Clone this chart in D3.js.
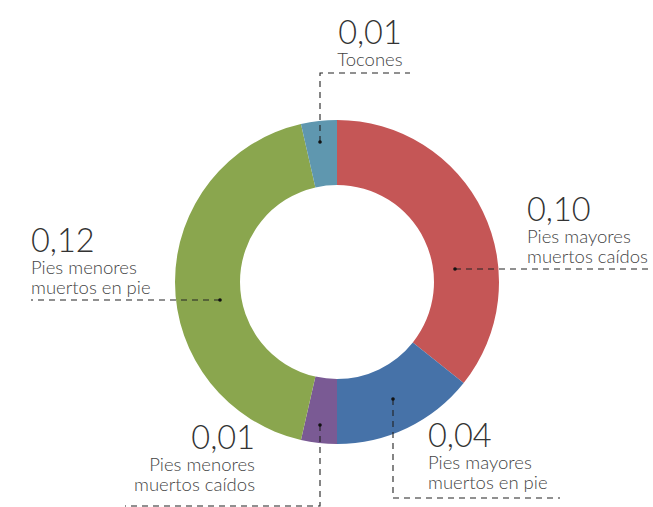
<!DOCTYPE html>
<html>
<head>
<meta charset="utf-8">
<script src="https://cdn.jsdelivr.net/npm/d3@7"></script>
<style>
	body{margin:0;background:#fff;}
	svg{display:block;}
</style>
</head>
<body>
<svg id="chart" width="653" height="507"></svg>
<script>
// categories and values, clockwise from 12 o'clock
const categories = ['Pies mayores|muertos caídos', 'Pies mayores|muertos en pie', 'Pies menores|muertos caídos', 'Pies menores|muertos en pie', 'Tocones'];
const values = [0.10, 0.04, 0.01, 0.12, 0.01];
const colors = ['#C55656', '#4672A8', '#7A5A94', '#8AA64E', '#5F97AF'];

// callout layout per slice: dot (relative to centre), elbow path, text block
const callouts = [
	{dot:[118, -13], path:[[316, -13]], tx:190, ty:-61, anchor:'start'},
	{dot:[56, 117], path:[[56, 216], [223, 216]], tx:91, ty:165, anchor:'start'},
	{dot:[-17, 143], path:[[-17, 224], [-212, 224]], tx:-82, ty:167, anchor:'end'},
	{dot:[-117, 18], path:[[-306, 18]], tx:-306, ty:-30, anchor:'start'},
	{dot:[-17, -140], path:[[-17, -209], [73, -209]], tx:33, ty:-238, anchor:'middle'}
];

class DonutChart {
	constructor(opt){
		this.svg = d3.select('#' + opt.id);
		this.cx = 337;
		this.cy = 282;
		this.outerR = 162;
		this.innerR = 97;
		this.numSize = 32.5;
		this.lblSize = 18.5;
		this.color = '#444';
	}

	draw(){
		let g = this.svg.append('g')
			.attr('transform', `translate(${this.cx},${this.cy})`);

		let data = categories.map((c, i) => ({name: c, value: values[i], i: i}));
		let pie = d3.pie().sort(null).value(d => d.value);
		let arc = d3.arc().innerRadius(this.innerR).outerRadius(this.outerR);

		g.selectAll('path.slice')
			.data(pie(data))
			.join('path')
			.attr('class', 'slice')
			.attr('fill', d => colors[d.data.i])
			.attr('d', arc);

		let fmt = v => d3.format('.2f')(v).replace('.', ',');

		data.forEach((d, i) => {
			let c = callouts[i];
			let pts = [c.dot].concat(c.path);
			g.append('path')
				.attr('d', d3.line()(pts))
				.attr('fill', 'none')
				.attr('stroke', '#222')
				.attr('stroke-width', 1.1)
				.attr('stroke-dasharray', '6,5');
			g.append('circle')
				.attr('cx', c.dot[0]).attr('cy', c.dot[1])
				.attr('r', 1.8).attr('fill', '#111');

			let t = g.append('g');
			t.append('text')
				.attr('x', c.tx).attr('y', c.ty)
				.attr('text-anchor', c.anchor)
				.attr('font-family', 'Lato')
				.attr('font-weight', 300)
				.attr('font-size', `${this.numSize}px`)
				.attr('fill', '#333')
				.text(fmt(d.value));
			let lines = d.name.split('|');
			lines.forEach((ln, k) => {
				t.append('text')
					.attr('x', c.tx).attr('y', c.ty + 22 + k * 20)
					.attr('text-anchor', c.anchor)
					.attr('font-family', 'Lato')
					.attr('font-weight', 300)
					.attr('font-size', `${this.lblSize}px`)
					.attr('fill', '#444')
					.text(ln);
			});
		});
	}
}

let chart = new DonutChart({id: 'chart'});
chart.draw();
</script>
</body>
</html>
